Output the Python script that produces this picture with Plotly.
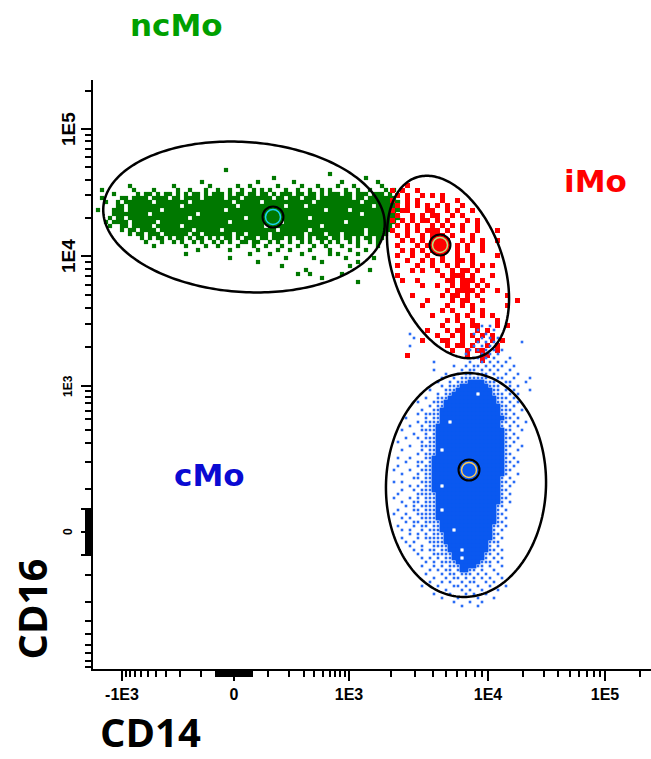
import numpy as np
import plotly.graph_objects as go

# ---------------------------------------------------------------------------
# Axis decades (CD14 on x, CD16 on y) and their labels
# ---------------------------------------------------------------------------
X_TICK_VALUES = [-1e3, 0, 1e3, 1e4, 1e5]
X_TICK_TEXT = ["-1E3", "0", "1E3", "1E4", "1E5"]
Y_TICK_VALUES = [0, 1e3, 1e4, 1e5]
Y_TICK_TEXT = ["0", "1E3", "1E4", "1E5"]

# Biexponential display calibration: fluorescence value -> display channel
X_SCALE = ([-1e3, 0, 1e3, 1e4, 1e5], [29, 141, 256, 395, 512])
Y_SCALE = ([-1e3, 0, 1e3, 1e4, 1e5], [-9, 137, 283, 413, 540])
X_CHANNELS = (0, 558)
Y_CHANNELS = (0, 589)

# ---------------------------------------------------------------------------
# Binned event maps in display channels ('#' dense bin, 'o' single event)
# ---------------------------------------------------------------------------
GREEN_BINS = dict(left=3, top=501, step=4)   # ncMo
GREEN_MAP = [
    "..........|..........|..........|..#",
    "..........|..........|..........|..........|..........|........#",
    "..........|..........|..........|..........|....#.....|..........|.......#",
    "..........|..........|......#...|..........|#........#|..........|.#........|#",
    "........#.|.........#|........#.|.....#..#.|.....#....|.#...#....|#...#.....|.#",
    ".#.......#|....#.....|#..#...#..|#..#..#..#|.#.#...#..|#..#..#.#.|..#..#..#.|..#.#.",
    "....#.....|#.##.#.##.|#.#.##.#.#|##.#.##.##|.##.#.###.|##.##.#.##|#.##.###.#|##.#",
    ".#....##.#|###.####.#|#.####.###|##.###.###|####.##.##|#.###.####|####.##.##|#####",
    "..#..#.###|####.#####|###.######|####.#####|#.########|####.#####|######.###|######",
    ".....##.##|##########|#.########|#####.####|#######.##|##.#######|#########.|#####",
    "#...###.##|######.###|##########|##.#######|##########|#######.##|###.######|######",
    "....######|###.######|#####.####|##########|####.#####|##########|######.###|#####",
    "...#.##.##|##########|###.######|#######.##|##########|###.######|##########|######",
    "..#.####.#|#####.####|##########|###.######|######.###|##########|##.#######|#####",
    "...#..##.#|####.#####|#.########|##########|##.#######|######.###|##########|####",
    "......#.##|.####.####|####.#####|#.########|#####.####|###.######|#######.##|####",
    "........#.|##.###.###|###.##.###|####.##.##|###.######|##.####.##|#.#####.##|###",
    "..........|.#.#.##.#.|##.#.##.#.|#.##.#.###|.##.###.#.|##.#.###.#|#.##.#.##.|##",
    "..........|..#...#..#|.#..#.#..#|.#.#..##.#|#..#.#..#.|.#.#..#.#.|#..#.#..#.|#",
    "..........|....#.....|..#....#..|#....#...#|..#...#...|#...#..#..|.#...#....|#",
    "..........|..........|.....#....|...#......|#....#..#.|...#....#.|...#...#",
    "..........|..........|..#.......|........#.|...#......|.#......#.|#....#",
    "..........|..........|..........|...#......|.......#..|....#.....|..#......#",
    "..........|..........|..........|..........|#.........|......#...|.....#",
    "..........|..........|..........|..........|......#...|..........|...#",
    "..........|..........|..........|..........|..........|..#.......|........#",
    "..........|..........|..........|..........|..........|#..#......|.#",
    "..........|..........|..........|..........|..........|......#",
    "..........|..........|..........|..........|..........|..........|.....#",
]

RED_BINS = dict(left=292, top=491, step=5)   # iMo
RED_MAP = [
    "",
    "....#",
    ".#.#..#",
    "..#.#..#.#|.#",
    ".#..#.#...|.#..#",
    "..#.#.#.#.|#.#..#",
    ".#.##...##|..#.#..#",
    "..#..#.#.#|#..#.#",
    ".#.#.#.##.|#.#...#.#",
    "..#.#.#..#|.#.#.#..#",
    ".#..#.#.##|#.#..#..#.|..#",
    "..#.#..#.#|##.#...#",
    "...#.#.#.#|###..#.#.#|..#",
    "..#...#.##|###.#.#..#",
    "...#.#.#.#|##..#.#..#",
    "..#..#..#.|.#..#..#..|..#",
    "....#..#.#|.#..##.#",
    "..#...#..#|..#.#..#.#|.#",
    ".....#.#..|#..#.##.#",
    "..#.......|.#.###.#..|.#",
    "...#..#...|..##.###.#",
    ".......#..|#..#.##.#.|#",
    "..........|..#.####.#|..#",
    ".....#....|.#.##.#.#.|....#",
    "........#.|...#.##..#|......#",
    ".......#..|..#..#.#..|....#",
    "..........|.#.#...#.#",
    ".........#|....#.#..#|.#",
    "..........|..#.#..#..|..#",
    "..........|.#...#.##.|..#.#",
    "........#.|..#.##..#.|#",
    "..........|#..#.#.#.#|.#",
    ".......#..|.##..#..#.|.#.#",
    "..........|..#.##.#..|#.#",
    "..........|...#..#.##|..#",
    "....#.....|......#..#|#",
    "..........|.........#",
]

BLUE_BINS = dict(left=299, top=345, step=4)  # cMo
BLUE_MAP = [
    "..........|..........|..o.o",
    "..........|..........|.o...o",
    "....o.....|..........|o..o",
    ".....o....|..........|..o.o.o",
    "..........|..........|.o.o.o....|..o",
    "....o.....|..........|o.o.o",
    "..........|.........o|.o.o.o.o",
    "..........|........o.|..o.o.o",
    "..........|..........|oo.o.o...o",
    "..........|o........o|..o.o.o.o",
    "..........|.....o..o.|oo.o.o.o..|o",
    "..........|o......o.o|o.o.o.o..o",
    "..........|...o..o.oo|.ooo.o..o.|.o",
    "..........|..o..o.ooo|oooo..oo..|o...o",
    "..........|.o..o.ooo#|###ooo..oo|...o",
    "..........|..o.ooo###|####ooo..o|.o",
    ".........o|...ooo####|#####oo.o.|o...o",
    "..........|.o.oo#####|#.###ooo.o|.o",
    "........o.|.ooo######|######ooo.|o",
    "......o...|ooo#######|######oo.o|.o",
    ".........o|.oo#######|#######oo.|o",
    ".......o..|oo########|#######ooo|..o",
    "......o.oo|oo########|#######oo.|o",
    "...o....o.|oo########|########oo|.o",
    "......o.oo|oo##.#####|#######oo.|o..o",
    "....o..o.o|o#########|#######o.o|.o",
    "..o....ooo|o#########|########oo|..o",
    ".....o..o.|o#########|########o.|o",
    "...o..o.oo|o#########|########oo|.o",
    ".o.....o.o|o#########|########o.|o",
    "....o..ooo|o#########|########oo|..o",
    "..o....o.o|o#.#######|########o.|.o",
    "......o.oo|o#########|########oo",
    ".o..o...oo|##########|########o.|o",
    "...o..oo.o|##########|########oo|.o",
    ".o....o.oo|##########|########o.|o",
    "o...o..ooo|##########|########oo",
    "..o...o.oo|##########|########o.|.o",
    ".....oo.oo|##########|#######o.o",
    "o.o....ooo|##########|#######oo.|o",
    "....o.o.oo|##.#######|#######o.o",
    "..o..o.ooo|##########|#######oo",
    ".o....oooo|o#########|#######o.o",
    "o...o.o.oo|o#########|#######oo",
    "..o..oo.oo|o#########|#######o.o",
    "...o.o.ooo|o#########|######oo",
    ".o...oo.oo|o#.#######|######o.o",
    "o..o..oooo|o#########|######oo",
    "..o.o..ooo|o#########|######o.o",
    "...o.oo.oo|oo########|######oo",
    ".o...o.oo.|oo########|#####oo.o",
    "..o.o..o.o|oo###.####|#####o.o",
    "....o.o.o.|ooo#######|#####oo",
    "..o...o.oo|ooo#######|#####o.o",
    "...o.o...o|ooo#######|####ooo",
    "....o..o..|oooo######|####o.o",
    ".....o.o.o|o.oo###.##|####oo.o",
    "......o...|ooooo#####|###oo.o",
    ".......o.o|.o.oo##.##|###o.o.o",
    "........o.|o.oooo####|##ooo.o",
    ".......o..|o.o.ooo###|#oo.o..o",
    ".........o|.o.oo.o##o|o.o..o",
    "........o.|..o.oo.ooo|.o.o..o",
    "..........|o..o.oo.o.|o.o.o..o",
    ".........o|..o.o..o.o|o..o.o",
    ".......o..|.o...oo.o.|.o..o...o",
    "..........|...o...o.o|..o...o",
    "..........|o...o...o.|o..o",
    "..........|..o...o...|.o...o",
    "..........|.....o...o|..o",
    "..........|.......o..|.o",
]

# Elliptical gates: centre x, centre y, semi-axis a, semi-axis b, rotation (deg)
GATES = {
    "ncMo": (151, 452, 141, 75, -4),
    "iMo": (355, 402, 95, 55, 110),
    "cMo": (373, 184, 80, 112, -2),
}
# Population medians (display channels)
MEDIANS = {
    "ncMo": (180, 452),
    "iMo": (347, 424),
    "cMo": (376, 199),
}

COLORS = {"ncMo": "#007800", "iMo": "#ff0000", "cMo": "#0a58f0"}
LABEL_COLORS = {"ncMo": "#00a000", "iMo": "#ff0000", "cMo": "#0a0ad2"}


def to_channel(values, scale, cofactor=100.0):
    """Arcsinh-based biexponential mapping of values onto display channels."""
    vals, chans = scale
    s = np.arcsinh(np.asarray(values, dtype=float) / cofactor)
    sv = np.arcsinh(np.asarray(vals, dtype=float) / cofactor)
    ch = np.asarray(chans, dtype=float)
    out = np.interp(s, sv, ch)
    hi = (ch[-1] - ch[-2]) / (sv[-1] - sv[-2])
    lo = (ch[1] - ch[0]) / (sv[1] - sv[0])
    out = np.where(s > sv[-1], ch[-1] + (s - sv[-1]) * hi, out)
    out = np.where(s < sv[0], ch[0] + (s - sv[0]) * lo, out)
    return out


def bin_centres(rows, left, top, step, mark):
    xs, ys = [], []
    for r, row in enumerate(rows):
        for c, k in enumerate(row.replace("|", "")):
            if k == mark:
                xs.append(left + step * (c + 0.5))
                ys.append(top - step * (r + 0.5))
    return xs, ys


def gate_path(cx, cy, a, b, deg):
    t = np.linspace(0, 2 * np.pi, 241)
    th = np.radians(deg)
    x = cx + a * np.cos(t) * np.cos(th) - b * np.sin(t) * np.sin(th)
    y = cy + a * np.cos(t) * np.sin(th) + b * np.sin(t) * np.cos(th)
    return "M" + " L".join(f"{xi:.2f},{yi:.2f}" for xi, yi in zip(x, y)) + " Z"


# Minor tick values: decade subdivisions and the dense linear band around 0
minor_vals = (
    [-k * 100 for k in range(1, 10)]
    + [k * 100 for k in range(1, 10)]
    + [k * 1e3 for k in range(2, 10)]
    + [k * 1e4 for k in range(2, 10)]
    + [k * 1e5 for k in range(2, 10)]
    + list(np.linspace(-50, 50, 41))
)

fig = go.Figure()

# event clouds
gx, gy = bin_centres(GREEN_MAP, **GREEN_BINS, mark="#")
fig.add_trace(go.Scatter(x=gx, y=gy, mode="markers", hoverinfo="skip",
                         marker=dict(symbol="square", size=4.2, color=COLORS["ncMo"], line_width=0)))
rx, ry = bin_centres(RED_MAP, **RED_BINS, mark="#")
fig.add_trace(go.Scatter(x=rx, y=ry, mode="markers", hoverinfo="skip",
                         marker=dict(symbol="square", size=5, color=COLORS["iMo"], line_width=0)))
bx, by = bin_centres(BLUE_MAP, **BLUE_BINS, mark="o")
fig.add_trace(go.Scatter(x=bx, y=by, mode="markers", hoverinfo="skip",
                         marker=dict(symbol="square", size=2.6, color="#2a6cf6", line_width=0)))
bx, by = bin_centres(BLUE_MAP, **BLUE_BINS, mark="#")
fig.add_trace(go.Scatter(x=bx, y=by, mode="markers", hoverinfo="skip",
                         marker=dict(symbol="square", size=4.8, color=COLORS["cMo"], line_width=0)))

# gates
for name, (cx, cy, a, b, deg) in GATES.items():
    fig.add_shape(type="path", path=gate_path(cx, cy, a, b, deg), xref="x", yref="y",
                  line=dict(color="black", width=2.5), fillcolor="rgba(0,0,0,0)")

# medians
for name, (mx, my) in MEDIANS.items():
    fig.add_trace(go.Scatter(x=[mx], y=[my], mode="markers", hoverinfo="skip",
                             marker=dict(symbol="circle", size=21, color=COLORS[name],
                                         line=dict(color="black", width=2))))
    fig.add_trace(go.Scatter(x=[mx], y=[my], mode="markers", hoverinfo="skip",
                             marker=dict(symbol="circle-open", size=15,
                                         line=dict(color="white", width=1.5))))

x_major = list(to_channel(X_TICK_VALUES + [-50, 50], X_SCALE))
y_major = list(to_channel(Y_TICK_VALUES + [-50, 50], Y_SCALE))
x_minor = [v for v in to_channel(minor_vals, X_SCALE) if X_CHANNELS[0] <= v <= X_CHANNELS[1]]
y_minor = [v for v in to_channel(minor_vals, Y_SCALE) if Y_CHANNELS[0] <= v <= Y_CHANNELS[1]]

tick_font = dict(family="Liberation Sans, Arial, sans-serif", size=16, color="black", weight="bold")
axis_common = dict(showline=True, linecolor="black", linewidth=2, showgrid=False, zeroline=False,
                   ticks="outside", ticklen=10, tickwidth=2, tickcolor="black", fixedrange=True)

fig.update_xaxes(range=list(X_CHANNELS), tickmode="array", tickvals=x_major,
                 ticktext=X_TICK_TEXT + ["", ""], tickfont=tick_font, ticklabelstandoff=0,
                 minor=dict(tickmode="array", tickvals=x_minor, ticks="outside", ticklen=6,
                            tickwidth=1.6, tickcolor="black", showgrid=False),
                 **axis_common)
fig.update_yaxes(range=list(Y_CHANNELS), tickmode="array", tickvals=y_major,
                 showticklabels=False,
                 minor=dict(tickmode="array", tickvals=y_minor, ticks="outside", ticklen=6,
                            tickwidth=1.6, tickcolor="black", showgrid=False),
                 **axis_common)

annotations = []
# rotated y tick labels
y_label_sizes = {"0": 12, "1E3": 12, "1E4": 19, "1E5": 19}
for text, ych in zip(Y_TICK_TEXT, to_channel(Y_TICK_VALUES, Y_SCALE)):
    annotations.append(dict(x=-0.0448, y=float(ych), xref="paper", yref="y", text=text,
                            showarrow=False, textangle=-90, xanchor="center", yanchor="middle",
                            font=dict(family="Liberation Sans, Arial, sans-serif",
                                      size=y_label_sizes[text], color="black", weight="bold")))
# population names
pop_font = "DejaVu Sans, Verdana, sans-serif"
for text, (px_, py_) in {"ncMo": (0.1505, 1.0934), "iMo": (0.9014, 0.8285), "cMo": (0.2088, 0.3294)}.items():
    annotations.append(dict(x=px_, y=py_, xref="paper", yref="paper", text=text, showarrow=False,
                            xanchor="center", yanchor="middle",
                            font=dict(family=pop_font, size=31, color=LABEL_COLORS[text], weight="bold")))
# axis titles
title_font = dict(family="Open Sans, Lato, sans-serif", size=40, color="black", weight="bold")
annotations.append(dict(x=0.1039, y=-0.1053, xref="paper", yref="paper", text="CD14", showarrow=False,
                        xanchor="center", yanchor="middle", font=title_font))
annotations.append(dict(x=-0.1102, y=0.1019, xref="paper", yref="paper", text="CD16", showarrow=False,
                        textangle=-90, xanchor="center", yanchor="middle", font=title_font))

fig.update_layout(width=651, height=759, margin=dict(l=93, r=0, t=80, b=90),
                  plot_bgcolor="white", paper_bgcolor="white", showlegend=False,
                  annotations=annotations)

fig.write_html("out.html")
